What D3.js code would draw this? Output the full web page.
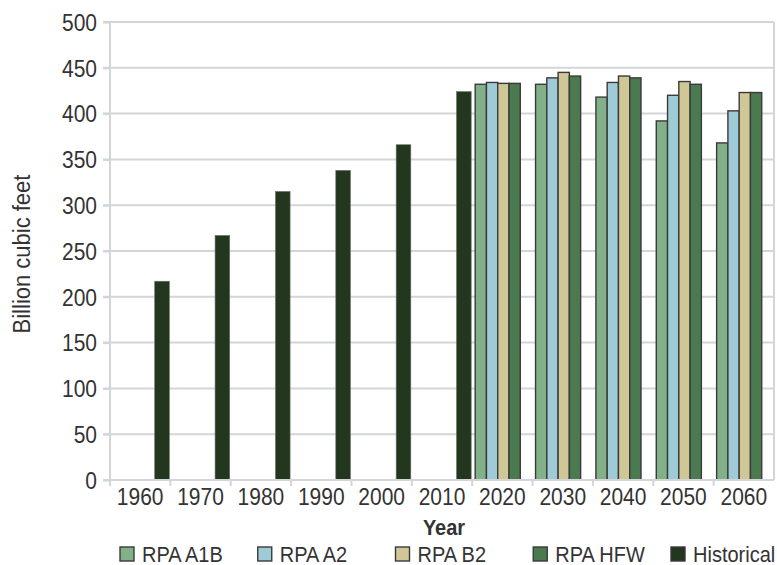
<!DOCTYPE html>
<html>
<head>
<meta charset="utf-8">
<script src="https://cdn.jsdelivr.net/npm/d3@7"></script>
<style>
  body { margin: 0; background: #fff; }
  svg { font-family: "Liberation Sans", Arial, sans-serif; }
</style>
</head>
<body>
<div id="chart"></div>
<script>
// Data
const years = ["1960", "1970", "1980", "1990", "2000", "2010", "2020", "2030", "2040", "2050", "2060"];
const seriesNames = ["RPA A1B", "RPA A2", "RPA B2", "RPA HFW", "Historical"];
const rpaA1B = [null, null, null, null, null, null, 432, 432, 418, 392, 368];
const rpaA2 = [null, null, null, null, null, null, 434, 439, 434, 420, 403];
const rpaB2 = [null, null, null, null, null, null, 433, 445, 441, 435, 423];
const rpaHFW = [null, null, null, null, null, null, 433, 441, 439, 432, 423];
const historical = [217, 267, 315, 338, 366, 424, null, null, null, null, null];
const yTicks = [0, 50, 100, 150, 200, 250, 300, 350, 400, 450, 500];

const seriesValues = [rpaA1B, rpaA2, rpaB2, rpaHFW, historical];
const colors = ["#82b088", "#9ecbd6", "#cfc795", "#4b7a50", "#23371f"];

const width = 777;
const height = 565;
const marginTop = 22;
const marginRight = 3;
const marginBottom = 85;
const marginLeft = 110;
const stretch = 1.1; // text in the picture is a bit taller than wide

const svg = d3.select("#chart")
    .append("svg")
    .attr("width", width)
    .attr("height", height);

const x = d3.scaleBand()
    .domain(years)
    .range([marginLeft, width - marginRight])
    .padding(0);

const bw = x.bandwidth();
const x1 = d3.scaleBand()
    .domain(seriesNames)
    .range([3, bw - 1])
    .padding(0);

const y = d3.scaleLinear()
    .domain([0, 500])
    .range([height - marginBottom, marginTop]);

const gridColor = "#d3d5d9";
const textColor = "#333";

// gridlines
svg.append("g")
    .selectAll("line")
    .data(yTicks.filter(d => d > 0))
    .join("line")
    .attr("x1", marginLeft - 7)
    .attr("x2", width - marginRight)
    .attr("y1", d => y(d))
    .attr("y2", d => y(d))
    .attr("stroke", gridColor)
    .attr("stroke-width", 2);

// right border
svg.append("line")
    .attr("x1", width - marginRight).attr("x2", width - marginRight)
    .attr("y1", y(500)).attr("y2", y(0))
    .attr("stroke", gridColor).attr("stroke-width", 2);

// bars
const groups = svg.append("g")
    .selectAll("g")
    .data(years)
    .join("g")
    .attr("transform", d => `translate(${x(d)},0)`);

groups.selectAll("rect")
    .data((d, i) => seriesNames.map((s, j) => ({ s, j, v: seriesValues[j][i] })).filter(e => e.v != null))
    .join("rect")
    .attr("x", e => e.s === "Historical" ? x1(e.s) + x1.bandwidth() * -0.3 : x1(e.s))
    .attr("width", e => e.s === "Historical" ? x1.bandwidth() * 1.3 : x1.bandwidth())
    .attr("y", e => y(e.v))
    .attr("height", e => y(0) - y(e.v))
    .attr("fill", e => colors[e.j])
    .attr("stroke", e => e.s === "Historical" ? "#6a6f68" : "#3a3a3a")
    .attr("stroke-width", e => e.s === "Historical" ? 0.6 : 1.4);

// y axis
const yAxis = svg.append("g")
    .attr("transform", `translate(${marginLeft},0)`)
    .call(d3.axisLeft(y).tickValues(yTicks).tickSize(7).tickPadding(6));
yAxis.select(".domain")
    .attr("d", `M0,${y(500)}V${y(0) + 6}`)
    .attr("stroke", gridColor).attr("stroke-width", 2);
yAxis.selectAll(".tick line").attr("stroke", gridColor).attr("stroke-width", 2);
yAxis.selectAll(".tick text")
    .attr("fill", textColor)
    .style("font-size", "21px")
    .attr("dy", "0.36em")
    .attr("transform", `scale(1,${stretch})`);

// x axis
const xAxis = svg.append("g")
    .attr("transform", `translate(0,${y(0)})`)
    .call(d3.axisBottom(x).tickSize(0).tickPadding(8));
xAxis.select(".domain")
    .attr("d", `M${marginLeft - 7},0H${width - marginRight}`)
    .attr("stroke", gridColor).attr("stroke-width", 2);
xAxis.selectAll(".tick text")
    .attr("fill", textColor)
    .style("font-size", "21px")
    .attr("y", 25 / stretch)
    .attr("dy", 0)
    .attr("transform", `scale(1,${stretch})`);

// band boundary ticks on x axis
svg.append("g")
    .selectAll("line")
    .data(years.slice(1))
    .join("line")
    .attr("x1", d => x(d)).attr("x2", d => x(d))
    .attr("y1", y(0)).attr("y2", y(0) + 6)
    .attr("stroke", gridColor).attr("stroke-width", 2);

// axis titles
svg.append("text")
    .attr("transform", `translate(30,${(y(0) + y(500)) / 2 + 3}) rotate(-90) scale(1,${stretch})`)
    .attr("text-anchor", "middle")
    .attr("fill", textColor)
    .style("font-size", "22px")
    .text("Billion cubic feet");

svg.append("text")
    .attr("transform", `translate(444,535) scale(1,${stretch})`)
    .attr("text-anchor", "middle")
    .attr("fill", textColor)
    .style("font-size", "20px")
    .style("font-weight", "bold")
    .text("Year");

// legend
const legendX = d3.scalePoint()
    .domain(seriesNames)
    .range([120, 671]);

const legend = svg.append("g")
    .selectAll("g")
    .data(seriesNames)
    .join("g")
    .attr("transform", d => `translate(${legendX(d)},547)`);

legend.append("rect")
    .attr("width", 14)
    .attr("height", 14)
    .attr("fill", (d, i) => colors[i])
    .attr("stroke", "#3a3a3a")
    .attr("stroke-width", 1.4);

legend.append("text")
    .attr("transform", `translate(22,15) scale(1,${stretch})`)
    .attr("fill", textColor)
    .style("font-size", "20px")
    .text(d => d);
</script>
</body>
</html>
